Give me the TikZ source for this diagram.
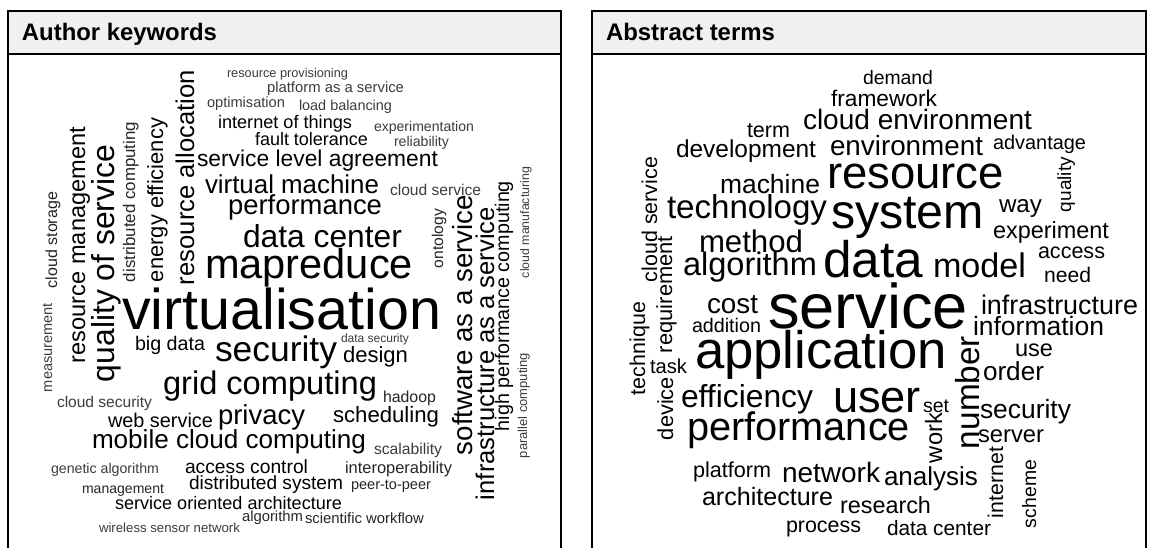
\documentclass[tikz,border=0pt]{standalone}
\usepackage{fontspec}
\setmainfont{Liberation Sans}
\definecolor{headfill}{HTML}{F0F0F0}
\definecolor{wordmid}{HTML}{262626}
\definecolor{wordlight}{HTML}{3C3C3C}
% scale a word to a given width (in pt)
\newcommand\wfit[2]{\resizebox{#1pt}{!}{#2}}
\tikzset{
  word/.style={inner sep=0pt, outer sep=0pt, anchor=base west, font=\fontsize{20}{20}\selectfont, text=black},
  vword/.style={word, rotate=90},
  md/.style={text=wordmid},
  lt/.style={text=wordlight},
  head/.style={inner sep=0pt, outer sep=0pt, anchor=base west, font=\bfseries\fontsize{22}{22}\selectfont},
  frame/.style={line width=2pt, draw=black},
}
\begin{document}
\begin{tikzpicture}[x=1pt, y=-1pt]
\useasboundingbox (0,0) rectangle (1155,547);
\fill[white] (0,0) rectangle (1155,547);
\clip (0,0) rectangle (1155,547);

% ---------- panel frames ----------
\coordinate (ltl) at (7.5,11);
\coordinate (ltr) at (561,11);
\coordinate (rtl) at (592,11);
\coordinate (rtr) at (1146,11);
\fill[headfill] (7.5,11) rectangle (561,53.5);
\fill[headfill] (592,11) rectangle (1146,53.5);
\draw[frame] (7.5,560) -- (ltl) -- (ltr) -- (561,560);
\draw[frame] (7.5,53.5) -- (561,53.5);
\draw[frame] (592,560) -- (rtl) -- (rtr) -- (1146,560);
\draw[frame] (592,53.5) -- (1146,53.5);
\node[head] (hleft) at (22,40.5) {\wfit{195}{Author keywords}};
\node[head] (hright) at (606,40.5) {\wfit{169}{Abstract terms}};

% ---------- author keywords ----------
\node[word,lt] (a1) at (227,77) {\wfit{121}{resource provisioning}};
\node[word,lt] (a2) at (267,92) {\wfit{137}{platform as a service}};
\node[word,lt] (a3) at (207,107) {\wfit{78}{optimisation}};
\node[word,lt] (a4) at (299,110) {\wfit{93}{load balancing}};
\node[word] (a5) at (218,128) {\wfit{134}{internet of things}};
\node[word,lt] (a6) at (374,131) {\wfit{100}{experimentation}};
\node[word] (a7) at (255,145) {\wfit{113}{fault tolerance}};
\node[word,lt] (a8) at (394,146) {\wfit{55}{reliability}};
\node[word] (a9) at (197,166) {\wfit{241}{service level agreement}};
\node[word] (a10) at (205,193) {\wfit{174}{virtual machine}};
\node[word,lt] (a11) at (390,195) {\wfit{91}{cloud service}};
\node[word] (a12) at (228,214) {\wfit{154}{performance}};
\node[word] (a13) at (243,247) {\wfit{159}{data center}};
\node[word] (a14) at (205,278) {\wfit{208}{mapreduce}};
\node[word] (a15) at (122,329) {\wfit{319}{virtualisation}};
\node[word] (a16) at (215,361) {\wfit{122}{security}};
\node[word,lt] (a17) at (341,342) {\wfit{68}{data security}};
\node[word] (a18) at (343,362) {\wfit{65}{design}};
\node[word] (a19) at (135,350) {\wfit{70}{big data}};
\node[word] (a20) at (163,394) {\wfit{214}{grid computing}};
\node[word,md] (a21) at (383,402) {\wfit{53}{hadoop}};
\node[word,lt] (a22) at (57,407) {\wfit{95}{cloud security}};
\node[word] (a23) at (108,427) {\wfit{105}{web service}};
\node[word] (a24) at (218,424) {\wfit{87}{privacy}};
\node[word] (a25) at (333,422) {\wfit{106}{scheduling}};
\node[word] (a26) at (92,448) {\wfit{274}{mobile cloud computing}};
\node[word,lt] (a27) at (374,454) {\wfit{68}{scalability}};
\node[word,lt] (a28) at (51,473) {\wfit{108}{genetic algorithm}};
\node[word] (a29) at (185,473) {\wfit{123}{access control}};
\node[word,md] (a30) at (345,473) {\wfit{107}{interoperability}};
\node[word,md] (a31) at (82,493) {\wfit{82}{management}};
\node[word] (a32) at (189,489) {\wfit{154}{distributed system}};
\node[word,md] (a33) at (351,489) {\wfit{80}{peer-to-peer}};
\node[word] (a34) at (115,509) {\wfit{227}{service oriented architecture}};
\node[word,md] (a35) at (242,521) {\wfit{61}{algorithm}};
\node[word,md] (a36) at (305,523) {\wfit{119}{scientific workflow}};
\node[word,lt] (a37) at (99,532) {\wfit{141}{wireless sensor network}};
% vertical
\node[vword,lt] (v1) at (52,392) {\wfit{89}{measurement}};
\node[vword,md] (v2) at (57,288) {\wfit{96}{cloud storage}};
\node[vword] (v3) at (85,363) {\wfit{236}{resource management}};
\node[vword] (v4) at (114,382) {\wfit{237}{quality of service}};
\node[vword,md] (v5) at (135,282) {\wfit{160}{distributed computing}};
\node[vword] (v6) at (163,282) {\wfit{164}{energy efficiency}};
\node[vword] (v7) at (194,285) {\wfit{215}{resource allocation}};
\node[vword,md] (v8) at (443,268) {\wfit{59}{ontology}};
\node[vword] (v9) at (472,455) {\wfit{260}{software as a service}};
\node[vword] (v10) at (494,500) {\wfit{293}{infrastructure as a service}};
\node[vword] (v11) at (509,431) {\wfit{250}{high performance computing}};
\node[vword,lt] (v12) at (529,278) {\wfit{111}{cloud manufacturing}};
\node[vword,lt] (v13) at (527,458) {\wfit{105}{parallel computing}};

% ---------- abstract terms ----------
\node[word] (b1) at (863,84) {\wfit{70}{demand}};
\node[word] (b2) at (831,106) {\wfit{106}{framework}};
\node[word] (b3) at (803,129) {\wfit{229}{cloud environment}};
\node[word] (b4) at (747,137) {\wfit{43}{term}};
\node[word] (b5) at (676,157) {\wfit{140}{development}};
\node[word] (b6) at (830,155) {\wfit{153}{environment}};
\node[word] (b7) at (993,149) {\wfit{93}{advantage}};
\node[word] (b8) at (827,188) {\wfit{177}{resource}};
\node[word] (b9) at (720,193) {\wfit{100}{machine}};
\node[word] (b10) at (831,228) {\wfit{153}{system}};
\node[word] (b11) at (999,212) {\wfit{43}{way}};
\node[word] (b12) at (667,218) {\wfit{160}{technology}};
\node[word] (b13) at (993,238) {\wfit{116}{experiment}};
\node[word] (b14) at (699,252) {\wfit{104}{method}};
\node[word] (b15) at (683,275) {\wfit{134}{algorithm}};
\node[word] (b16) at (823,277) {\wfit{100}{data}};
\node[word] (b17) at (933,277) {\wfit{93}{model}};
\node[word] (b18) at (1038,258) {\wfit{67}{access}};
\node[word] (b19) at (1044,282) {\wfit{47}{need}};
\node[word] (b20) at (707,313) {\wfit{51}{cost}};
\node[word] (b21) at (692,332) {\wfit{69}{addition}};
\node[word] (b22) at (768,328) {\wfit{200}{service}};
\node[word] (b23) at (981,314) {\wfit{157}{infrastructure}};
\node[word] (b24) at (973,335) {\wfit{131}{information}};
\node[word] (b25) at (695,368) {\wfit{252}{application}};
\node[word] (b26) at (1015,356) {\wfit{38}{use}};
\node[word] (b27) at (983,380) {\wfit{61}{order}};
\node[word] (b28) at (650,373) {\wfit{37}{task}};
\node[word] (b29) at (681,407) {\wfit{132}{efficiency}};
\node[word] (b30) at (833,412) {\wfit{88}{user}};
\node[word] (b31) at (923,412) {\wfit{26}{set}};
\node[word] (b32) at (980,418) {\wfit{91}{security}};
\node[word] (b33) at (978,442) {\wfit{66}{server}};
\node[word] (b34) at (687,440) {\wfit{223}{performance}};
\node[word] (b35) at (693,477) {\wfit{78}{platform}};
\node[word] (b36) at (782,482) {\wfit{98}{network}};
\node[word] (b37) at (884,485) {\wfit{94}{analysis}};
\node[word] (b38) at (702,505) {\wfit{131}{architecture}};
\node[word] (b39) at (840,513) {\wfit{91}{research}};
\node[word] (b40) at (786,532) {\wfit{75}{process}};
\node[word] (b41) at (887,535) {\wfit{104}{data center}};
% vertical
\node[vword] (w1) at (1071,212) {\wfit{55}{quality}};
\node[vword] (w2) at (657,282) {\wfit{125}{cloud service}};
\node[vword] (w3) at (672,353) {\wfit{117}{requirement}};
\node[vword] (w4) at (645,395) {\wfit{93}{technique}};
\node[vword] (w5) at (979,449) {\wfit{113}{number}};
\node[vword] (w6) at (673,440) {\wfit{63}{device}};
\node[vword] (w7) at (942,463) {\wfit{50}{work}};
\node[vword] (w8) at (1003,518) {\wfit{71}{internet}};
\node[vword] (w9) at (1036,528) {\wfit{68}{scheme}};
\end{tikzpicture}
\end{document}
